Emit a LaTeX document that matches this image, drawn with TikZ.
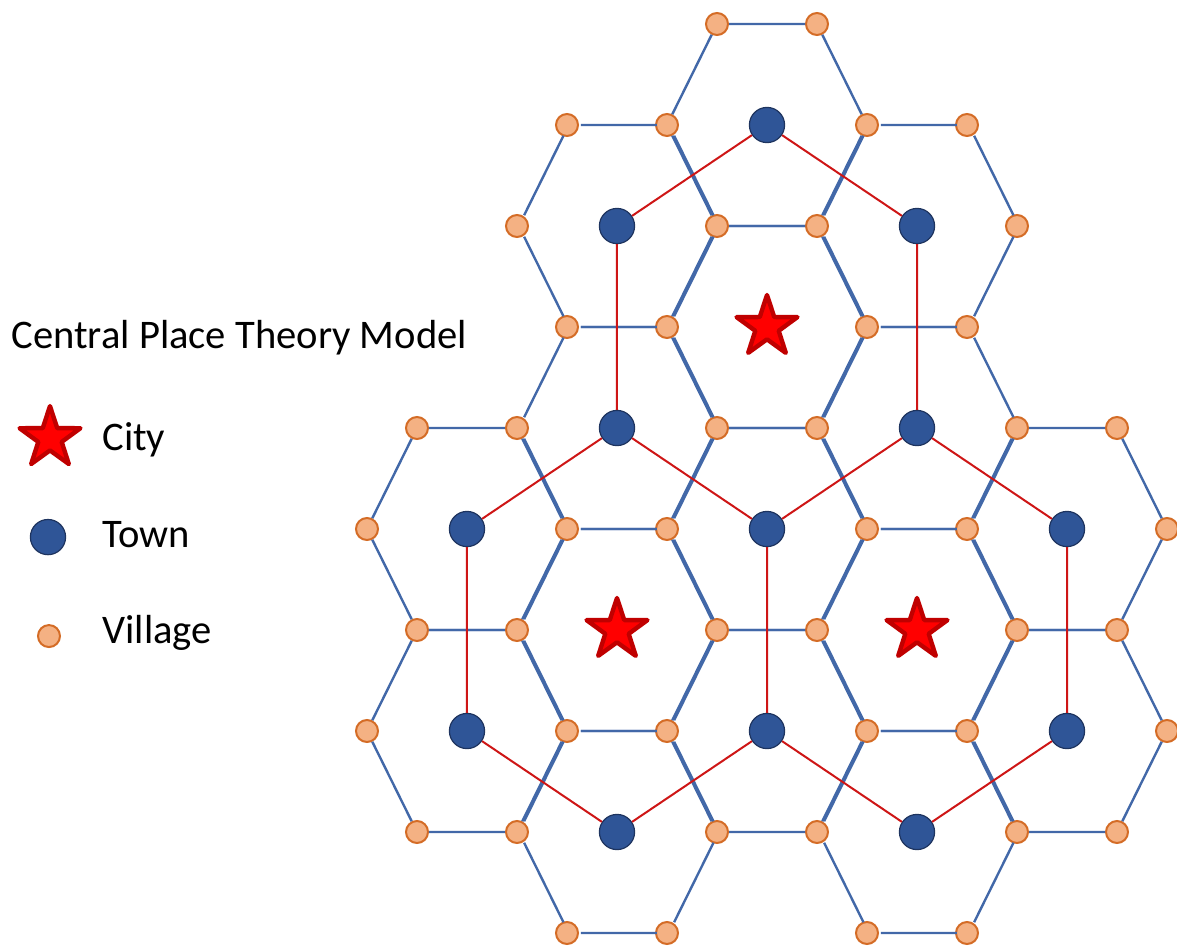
\documentclass[tikz,border=0pt]{standalone}
\usepackage{fontspec}
\setmainfont{Carlito}
\usepackage{tikz}
\usepackage{xcolor}
\usetikzlibrary{
    shapes.geometric
}
\definecolor{roadblue}{RGB}{66,104,168}
\definecolor{linkred}{RGB}{206,22,22}
\definecolor{townblue}{RGB}{47,85,151}
\definecolor{townedge}{RGB}{30,52,95}
\definecolor{villagefill}{RGB}{244,177,131}
\definecolor{villageedge}{RGB}{212,108,38}
\definecolor{cityedge}{RGB}{192,0,0}

\begin{document}
\begin{tikzpicture}[x=25pt, y=50.5pt,
    village/.style={circle, inner sep=0pt, minimum size=11pt, fill=villagefill, draw=villageedge, line width=1pt},
    town/.style={circle, inner sep=0pt, minimum size=17.6pt, fill=townblue, draw=townedge, line width=0.6pt},
    city/.style={star, star points=5, star point ratio=2.6, inner sep=0pt, minimum size=32pt, fill=red, draw=cityedge, line width=2.2pt, line join=round},
    road/.style={draw=roadblue, line width=1.2pt},
    townlink/.style={draw=linkred, line width=1pt},
    legendtext/.style={anchor=base west, inner sep=0pt, font=\fontsize{20.3}{24}\selectfont}]
                        \useasboundingbox (-15.34, -6.1485) rectangle (8.2, 3.2376);
                        \node[city] (c1) at (0, 0) {};
                        \node[city] (c2) at (-3, -3) {};
                        \node[city] (c3) at (3, -3) {};
                        \node[town] (t1) at (0, 2) {};
                        \node[town] (t2) at (-3, 1) {};
                        \node[town] (t3) at (3, 1) {};
                        \node[town] (t4) at (-3, -1) {};
                        \node[town] (t5) at (3, -1) {};
                        \node[town] (t6) at (0, -2) {};
                        \node[town] (t7) at (-6, -2) {};
                        \node[town] (t8) at (6, -2) {};
                        \node[town] (t9) at (-6, -4) {};
                        \node[town] (t10) at (0, -4) {};
                        \node[town] (t11) at (6, -4) {};
                        \node[town] (t12) at (-3, -5) {};
                        \node[town] (t13) at (3, -5) {};
                        \foreach \y/\xs in {3/{-1,1}, 2/{-4,-2,2,4}, 1/{-5,-1,1,5}, 0/{-4,-2,2,4},
                                -1/{-7,-5,-1,1,5,7}, -2/{-8,-4,-2,2,4,8}, -3/{-7,-5,-1,1,5,7},
                                -4/{-8,-4,-2,2,4,8}, -5/{-7,-5,-1,1,5,7}, -6/{-4,-2,2,4}}
                            \foreach \x in \xs
                                \node[village] (v\x_\y) at (\x, \y) {};
                        \foreach \cx/\cy/\dx in {0/2/0, 0/0/0, 0/-2/0, 0/-4/0, -3/1/0.9, -3/-1/0.9, -3/-3/0.9, -3/-5/0.9,
                                3/1/0.9, 3/-1/0.9, 3/-3/0.9, 3/-5/0.9, -6/-2/0, -6/-4/0, 6/-2/0, 6/-4/0} {
                            \pgfmathtruncatemacro{\xa}{\cx-2}
                            \pgfmathtruncatemacro{\xb}{\cx-1}
                            \pgfmathtruncatemacro{\xc}{\cx+1}
                            \pgfmathtruncatemacro{\xd}{\cx+2}
                            \pgfmathtruncatemacro{\ya}{\cy+1}
                            \pgfmathtruncatemacro{\yb}{\cy-1}
                            \draw[road, transform canvas={xshift=\dx pt}] (v\xa_\cy) -- (v\xb_\ya) -- (v\xc_\ya) -- (v\xd_\cy)
                                -- (v\xc_\yb) -- (v\xb_\yb) -- (v\xa_\cy);
                        }
                        \draw[townlink]
                        (t2) -- (t1) -- (t3) -- (t5) -- (t6) -- (t4) -- (t2)
                        (t4) -- (t7) -- (t9) -- (t12) -- (t10) -- (t6)
                        (t5) -- (t8) -- (t11) -- (t13) -- (t10);
                        \node[legendtext] (title) at (-15.12, -0.21) {Central Place Theory Model};
                        \node[city] (keycity) at (-14.34, -1.1) {};
                        \node[town] (keytown) at (-14.38, -2.08) {};
                        \node[village] (keyvillage) at (-14.36, -3.06) {};
                        \node[legendtext] (citytext) at (-13.3, -1.22) {City};
                        \node[legendtext] (towntext) at (-13.3, -2.18) {Town};
                        \node[legendtext] (villagetext) at (-13.3, -3.13) {Village};
                    \end{tikzpicture}
\end{document}
